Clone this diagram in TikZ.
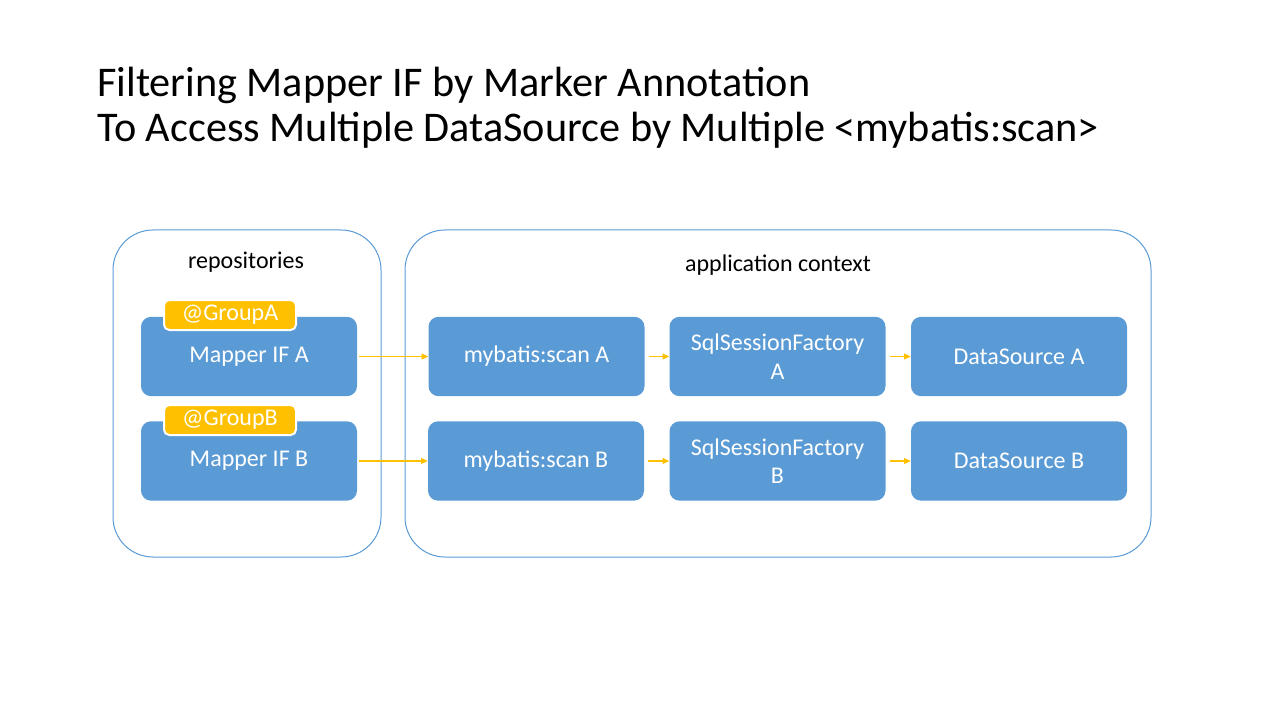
\documentclass[tikz,border=0pt]{standalone}
\usepackage{fontspec}
\setmainfont{Carlito}
\usetikzlibrary{arrows.meta}
\definecolor{boxblue}{HTML}{5B9BD5}
\definecolor{taggold}{HTML}{FFC000}

\begin{document}
\begin{tikzpicture}[x=0.75pt, y=-0.75pt,
    comp/.style={fill=boxblue, rounded corners=7.5pt, minimum width=162pt, minimum height=59.5pt,
      inner sep=0pt, align=center, text=white, font=\fontsize{18}{21.5}\selectfont},
    tag/.style={fill=taggold, draw=white, line width=1.5pt, rounded corners=4pt, minimum width=99pt,
      minimum height=22.5pt, inner sep=0pt, text=white, font=\fontsize{18}{21.5}\selectfont},
    frame/.style={draw=boxblue, line width=0.75pt, rounded corners=30pt},
    flow/.style={draw=taggold, line width=0.8pt, -{Triangle[length=5pt,width=4.5pt]}, shorten <=1pt}]
  \useasboundingbox (0,0) rectangle (1280,720);

  % タイトル
  \node [anchor=west, inner sep=0pt, align=left, font=\fontsize{31.7}{33.75}\selectfont] (title) at (97,107.5)
    {Filtering Mapper IF by Marker Annotation\\To Access Multiple DataSource by Multiple <mybatis:scan>};

  % 枠
  \draw [frame] (113,230) rectangle (381,557);
  \draw [frame] (405,230) rectangle (1151,557);
  \node [font=\fontsize{18}{21.5}\selectfont] (repos) at (246,262) {repositories};
  \node [font=\fontsize{18}{21.5}\selectfont] (appctx) at (778,265) {application context};

  % コンポーネント
  \node [comp] (mapperA) at (249,356.5) {Mapper IF A};
  \node [comp] (mapperB) at (249,461) {Mapper IF B};
  \node [tag] (groupA) at (230,315) {@GroupA};
  \node [tag] (groupB) at (230,420) {@GroupB};

  \node [comp] (scanA) at (536.5,356.5) {mybatis:scan A};
  \node [comp] (scanB) at (536,461) {mybatis:scan B};
  \node [comp] (factoryA) at (777.5,356.5) {SqlSessionFactory\\A};
  \node [comp] (factoryB) at (777.5,461) {SqlSessionFactory\\B};
  \node [comp] (dsA) at (1019,356.5) {DataSource A};
  \node [comp] (dsB) at (1019,461) {DataSource B};

  % 矢印
  \draw [flow] (mapperA) -- (scanA);
  \draw [flow] (mapperB) -- (scanB);
  \draw [flow, shorten <=3pt] (scanA) -- (factoryA);
  \draw [flow, shorten <=3pt] (scanB) -- (factoryB);
  \draw [flow, shorten <=3pt] (factoryA) -- (dsA);
  \draw [flow, shorten <=3pt] (factoryB) -- (dsB);
\end{tikzpicture}
\end{document}
